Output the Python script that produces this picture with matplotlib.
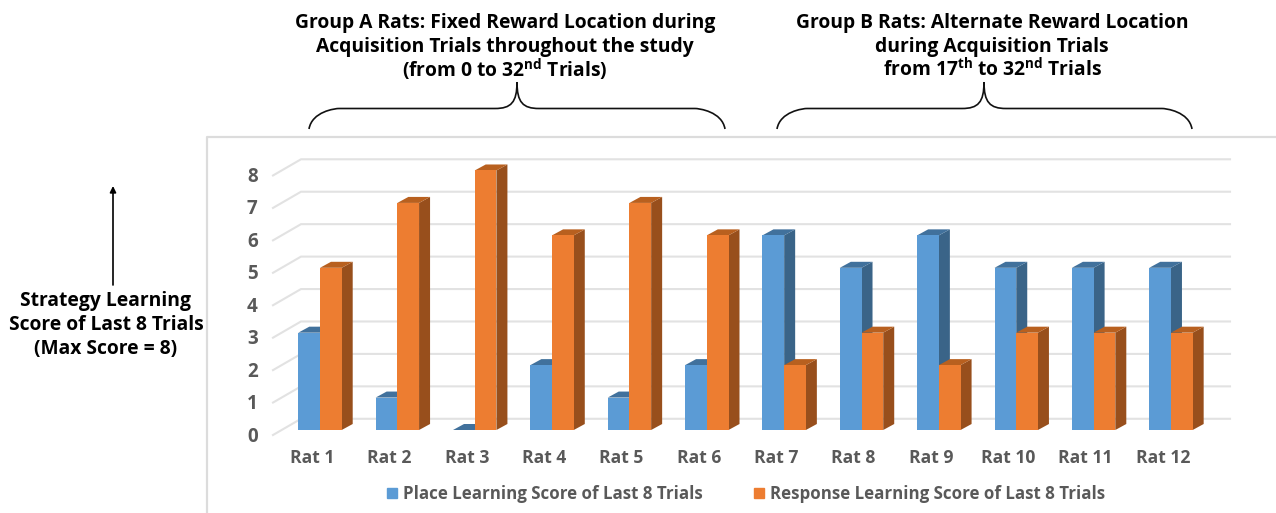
import matplotlib
matplotlib.use("Agg")
import matplotlib.pyplot as plt
from matplotlib.patches import Polygon, Patch, PathPatch
from matplotlib.path import Path
from matplotlib.transforms import ScaledTranslation

plt.rcParams['font.family'] = ['Open Sans', 'DejaVu Sans']
plt.rcParams['font.weight'] = 'bold'
plt.rcParams['mathtext.fontset'] = 'custom'
plt.rcParams['mathtext.rm'] = 'Open Sans:bold'
plt.rcParams['mathtext.default'] = 'rm'

# data
rats = ['Rat 1', 'Rat 2', 'Rat 3', 'Rat 4', 'Rat 5', 'Rat 6',
        'Rat 7', 'Rat 8', 'Rat 9', 'Rat 10', 'Rat 11', 'Rat 12']
place_scores = [3, 1, 0, 2, 1, 2, 6, 5, 6, 5, 5, 5]
response_scores = [5, 7, 8, 6, 7, 6, 2, 3, 2, 3, 3, 3]
score_ticks = [0, 1, 2, 3, 4, 5, 6, 7, 8]

W, H = 1276, 513
fig = plt.figure(figsize=(W / 100, H / 100), dpi=100)

# page layer in pixel coordinates, for the notes around the chart
page = fig.add_axes([0, 0, 1, 1])
page.set_xlim(0, W)
page.set_ylim(H, 0)
page.axis('off')

# chart frame (only top and left are visible)
page.plot([1276, 207, 207], [137, 137, 513], color='#dcdcdc', lw=1.6)

# main axes: front plane of the bars
PX_X = 77.36
PX_Y = 32.44
left_px = 320 - PX_X / 2
ax = fig.add_axes([left_px / W, 1 - 430 / H, 12 * PX_X / W, 8 * PX_Y / H])
ax.set_xlim(-0.5, 11.5)
ax.set_ylim(0, 8)
ax.patch.set_alpha(0)
for s in ax.spines.values():
    s.set_visible(False)

bar_w = 21.7 / PX_X
depth_x = 11 / PX_X
depth_y = 6 / PX_Y


def bar3d(x, height, left, front, top, side, z):
    ax.add_patch(Polygon([(x + left + bar_w, 0), (x + left + bar_w + depth_x, depth_y),
                          (x + left + bar_w + depth_x, height + depth_y), (x + left + bar_w, height)],
                         facecolor=side, edgecolor='none', clip_on=False, zorder=z))
    ax.add_patch(Polygon([(x + left, height), (x + left + depth_x, height + depth_y),
                          (x + left + bar_w + depth_x, height + depth_y), (x + left + bar_w, height)],
                         facecolor=top, edgecolor='none', clip_on=False, zorder=z))
    if height > 0:
        ax.bar(x + left, height, width=bar_w, align='edge', color=front, zorder=z + 0.1, clip_on=False)


# back wall gridlines and the floor diagonals
wall_up = 11.2 / PX_Y
wall_x0 = (301 - left_px) / PX_X - 0.5
wall_x1 = (1230 - left_px) / PX_X - 0.5
diag_x0 = (273 - left_px) / PX_X - 0.5
for v in score_ticks:
    ax.plot([diag_x0, wall_x0, wall_x1], [v - 5 / PX_Y, v + wall_up, v + wall_up],
            color='#e2e2e2', lw=1.5, zorder=1, clip_on=False, solid_joinstyle='miter')

for i in range(len(rats)):
    bar3d(i, place_scores[i], -bar_w, '#5b9bd5', '#41719c', '#3a6488', 2 + i)
    bar3d(i, response_scores[i], 0, '#ed7d31', '#b8601f', '#984f1c', 2.5 + i)

ax.set_xticks(range(len(rats)))
ax.set_xticklabels(rats)
ax.set_yticks(score_ticks)
ax.tick_params(axis='both', length=0, labelcolor='#595959')
ax.tick_params(axis='x', pad=14, labelsize=12.6)
ax.tick_params(axis='y', pad=17, labelsize=13.5)
for lab in ax.get_xticklabels():
    lab.set_transform(lab.get_transform() + ScaledTranslation(-8 / 100, 0, fig.dpi_scale_trans))
for lab in ax.get_yticklabels():
    lab.set_transform(lab.get_transform() + ScaledTranslation(0, -4 / 100, fig.dpi_scale_trans))

handles = [Patch(color='#5b9bd5', label='Place Learning Score of Last 8 Trials'),
           Patch(color='#ed7d31', label='Response Learning Score of Last 8 Trials')]
fig.legend(handles=handles, ncol=2, frameon=False, loc='center', bbox_to_anchor=(746 / W, 1 - 494 / H),
           fontsize=12.15, labelcolor='#595959', handlelength=0.6, handleheight=0.6,
           handletextpad=0.36, columnspacing=3.0, borderpad=0)

# group headings
tfs = 13.9
page.text(505, 23, 'Group A Rats: Fixed Reward Location during', ha='center', va='center', fontsize=tfs)
page.text(505, 47, 'Acquisition Trials throughout the study', ha='center', va='center', fontsize=tfs)
page.text(505, 70, '(from 0 to 32$^{nd}$ Trials)', ha='center', va='center', fontsize=tfs)
page.text(992, 23, 'Group B Rats: Alternate Reward Location', ha='center', va='center', fontsize=tfs)
page.text(992, 47, 'during Acquisition Trials', ha='center', va='center', fontsize=tfs)
page.text(992, 70, 'from 17$^{th}$ to 32$^{nd}$ Trials', ha='center', va='center', fontsize=tfs)


def brace(x0, xm, x1):
    yb, yf, yt = 129, 108.5, 82
    verts = [(x0, yb), (x0 + 3, yf + 3), (x0 + 26, yf), (x0 + 30, yf),
             (xm - 22, yf), (xm - 22, yf), (xm - 22, yf),
             (xm - 6, yf), (xm, yf - 6), (xm, yt),
             (xm, yf - 6), (xm + 6, yf), (xm + 22, yf),
             (x1 - 30, yf), (x1 - 30, yf), (x1 - 30, yf),
             (x1 - 26, yf), (x1 - 3, yf + 3), (x1, yb)]
    codes = [Path.MOVETO] + [Path.CURVE4] * 18
    page.add_patch(PathPatch(Path(verts, codes), fill=False, edgecolor='#111111', lw=1.2))


brace(309, 517, 725)
brace(777, 984, 1192)

# y axis note with arrow
page.annotate('', xy=(113, 186), xytext=(113, 285),
              arrowprops=dict(arrowstyle='-|>', color='black', lw=1.2, mutation_scale=9, shrinkA=0, shrinkB=0))
page.text(106, 301, 'Strategy Learning', ha='center', va='center', fontsize=tfs)
page.text(106, 325, 'Score of Last 8 Trials', ha='center', va='center', fontsize=tfs)
page.text(106, 349, '(Max Score = 8)', ha='center', va='center', fontsize=tfs)

fig.savefig('out.png', dpi=100)
